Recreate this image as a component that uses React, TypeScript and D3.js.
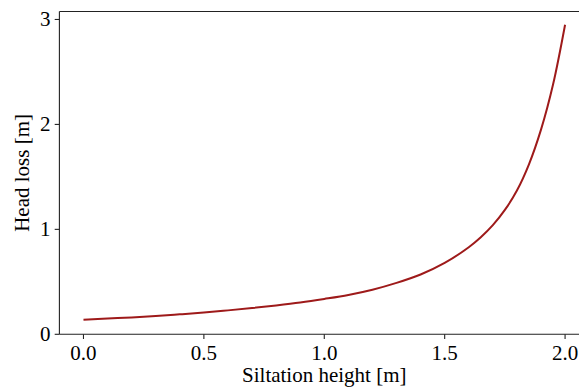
import React from "react";
import * as d3 from "d3";

const siltation = [0.0, 0.1, 0.2, 0.3, 0.4, 0.5, 0.6, 0.7, 0.8, 0.9, 1.0, 1.1, 1.2, 1.3, 1.4, 1.5, 1.6, 1.65, 1.7, 1.75, 1.8, 1.85, 1.9, 1.95, 2.0];
const headLoss = [0.139, 0.150, 0.161, 0.174, 0.190, 0.207, 0.228, 0.250, 0.275, 0.303, 0.337, 0.375, 0.425, 0.490, 0.570, 0.680, 0.830, 0.925, 1.040, 1.185, 1.370, 1.620, 1.950, 2.380, 2.950];
const xTicks = [0.0, 0.5, 1.0, 1.5, 2.0];
const yTicks = [0, 1, 2, 3];
const xLabel = "Siltation height [m]";
const yLabel = "Head loss [m]";

export default function App() {
  const W = 579, H = 389;
  const left = 59.4, top = 11.5, bottom = 334.3;
  const x = d3.scaleLinear().domain([-0.1, 2.1]).range([left, left + 2.2 * 240.8]);
  const y = d3.scaleLinear().domain([0, 3.076]).range([bottom, top]);
  const right = x(2.1);
  const pts: [number, number][] = siltation.map((s, i) => [s, headLoss[i]]);
  const line = d3.line<[number, number]>().x(d => x(d[0])).y(d => y(d[1])).curve(d3.curveCatmullRom.alpha(0.5));
  const font = "'Liberation Serif', 'Times New Roman', serif";
  const spine = "#222";
  const ts = { fontFamily: font };
  return (
    <div style={{ position: "absolute", left: 0, top: 0, width: W, height: H, overflow: "hidden" }}>
      <svg width={W} height={H} style={{ display: "block", background: "#fff" }}>
        <rect x={0} y={0} width={W} height={H} fill="#fff" />
        <path d={line(pts) || ""} fill="none" stroke="#9e1a1a" strokeWidth={2} strokeLinejoin="round" strokeLinecap="butt" />
        <line x1={left} x2={left} y1={top} y2={bottom} stroke={spine} strokeWidth={1.1} />
        <line x1={left} x2={right} y1={bottom} y2={bottom} stroke={spine} strokeWidth={1.1} />
        <line x1={left} x2={right} y1={top} y2={top} stroke={spine} strokeWidth={1.1} />
        <line x1={right} x2={right} y1={top} y2={bottom} stroke={spine} strokeWidth={1.1} />
        {xTicks.map(t => (
          <g key={"x" + t}>
            <line x1={x(t)} x2={x(t)} y1={bottom} y2={bottom + 4.7} stroke={spine} strokeWidth={1.1} />
            <text x={x(t)} y={360} textAnchor="middle" fontSize={21} fill="#000" style={ts}>{t.toFixed(1)}</text>
          </g>
        ))}
        {yTicks.map(t => (
          <g key={"y" + t}>
            <line x1={left - 4.7} x2={left} y1={y(t)} y2={y(t)} stroke={spine} strokeWidth={1.1} />
            <text x={50.5} y={y(t) + 7} textAnchor="end" fontSize={21} fill="#000" style={ts}>{t}</text>
          </g>
        ))}
        <text x={(left + right) / 2} y={382} textAnchor="middle" fontSize={21} fill="#000" style={ts}>{xLabel}</text>
        <text transform={`translate(28.5, ${(top + bottom) / 2}) rotate(-90)`} textAnchor="middle" fontSize={21} fill="#000" style={ts}>{yLabel}</text>
      </svg>
    </div>
  );
}
